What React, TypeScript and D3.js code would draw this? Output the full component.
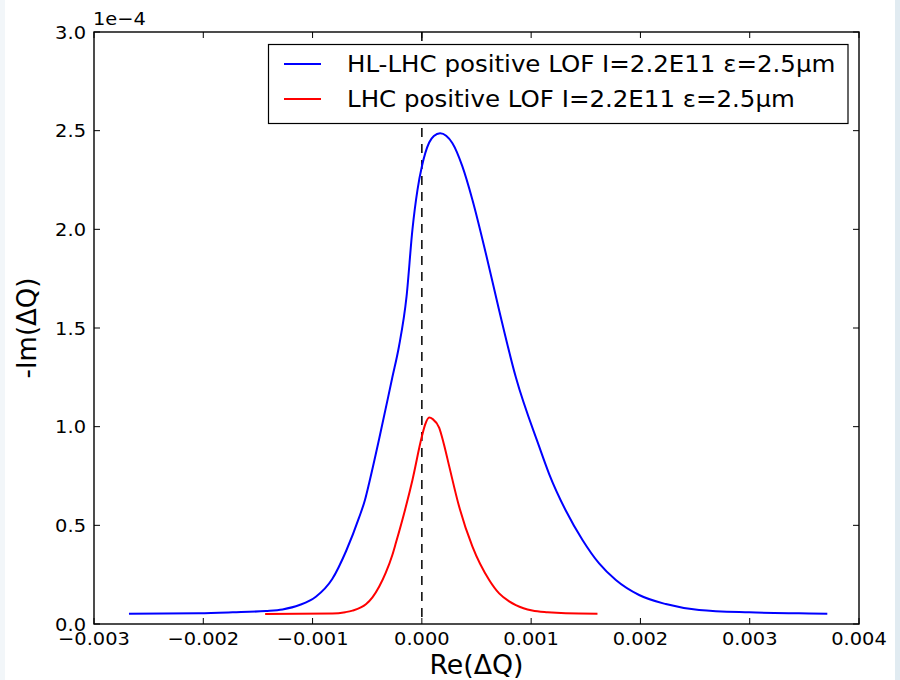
import React from "react";
import * as d3 from "d3";

const blueX = [-0.00268, -0.00204, -0.00173, -0.00143, -0.001275, -0.00112, -0.00097, -0.00082, -0.000693, -0.000574, -0.00052, -0.000482, -0.00039, -0.00027, -0.00021, -0.00014, -0.000086, -0.00004, 0, 0.000067, 0.00011, 0.000167, 0.00028, 0.00037, 0.000463, 0.000585, 0.000707, 0.00086, 0.001073, 0.001165, 0.001317, 0.00147, 0.001622, 0.001775, 0.001988, 0.002232, 0.002537, 0.002995, 0.00345, 0.00371];
const blueY = [0.052, 0.054, 0.059, 0.066, 0.074, 0.096, 0.138, 0.228, 0.37, 0.54, 0.63, 0.715, 0.94, 1.25, 1.405, 1.66, 2.0, 2.2, 2.318, 2.44, 2.473, 2.487, 2.436, 2.32, 2.149, 1.879, 1.59, 1.25, 0.9, 0.76, 0.575, 0.426, 0.307, 0.223, 0.147, 0.101, 0.071, 0.059, 0.054, 0.052];

const redX = [-0.001434, -0.000818, -0.0007, -0.000635, -0.000512, -0.000452, -0.00039, -0.00033, -0.00027, -0.000238, -0.000146, -0.000086, 0, 0.00003, 0.000067, 0.0001, 0.000158, 0.0002, 0.00025, 0.000341, 0.000463, 0.000616, 0.000707, 0.000799, 0.00086, 0.00093, 0.00101, 0.00115, 0.001317, 0.001607];
const redY = [0.051, 0.053, 0.06, 0.068, 0.1, 0.135, 0.19, 0.26, 0.35, 0.41, 0.595, 0.73, 0.95, 1.01, 1.046, 1.038, 0.995, 0.915, 0.8, 0.595, 0.392, 0.223, 0.155, 0.115, 0.096, 0.08, 0.068, 0.059, 0.054, 0.052];

const xTicks = [-0.003, -0.002, -0.001, 0, 0.001, 0.002, 0.003, 0.004];
const xTickLabels = ["\u22120.003", "\u22120.002", "\u22120.001", "0.000", "0.001", "0.002", "0.003", "0.004"];
const yTicks = [0, 0.5, 1.0, 1.5, 2.0, 2.5, 3.0];
const yTickLabels = ["0.0", "0.5", "1.0", "1.5", "2.0", "2.5", "3.0"];

const seriesNames = ["HL-LHC positive LOF I=2.2E11 \u03b5=2.5\u03bcm", "LHC positive LOF I=2.2E11 \u03b5=2.5\u03bcm"];
const seriesColors = ["#0000ff", "#ff0000"];
const xLabel = "Re(\u0394Q)";
const yLabel = "-Im(\u0394Q)";
const offsetText = "1e\u22124";

const W = 900, H = 680;
const L = 94, R = 859, T = 32, B = 624;
const FONT = "'DejaVu Sans', sans-serif";

function SText({ x, y, sx, size, anchor, children }: { x: number; y: number; sx: number; size: number; anchor?: string; children: React.ReactNode }) {
  return (
    <text transform={`translate(${x},${y}) scale(${sx},1)`} textAnchor={anchor || "start"} fontSize={size} fill="#000">
      {children}
    </text>
  );
}

export default function App() {
  const x = d3.scaleLinear().domain([-0.003, 0.004]).range([L, R]);
  const y = d3.scaleLinear().domain([0, 3.0]).range([B, T]);
  const line = d3.line<[number, number]>().x(d => x(d[0])).y(d => y(d[1])).curve(d3.curveMonotoneX);
  const blue = blueX.map((v, i) => [v, blueY[i]] as [number, number]);
  const red = redX.map((v, i) => [v, redY[i]] as [number, number]);
  const tl = 6;
  return (
    <svg width={W} height={H} style={{ position: "fixed", left: 0, top: 0, background: "#ffffff" }} fontFamily={FONT}>
      <rect x={0} y={0} width={5} height={H} fill="#f2f6f9" />
      <rect x={895} y={0} width={5} height={H} fill="#e1ebf1" />
      <line x1={x(0)} x2={x(0)} y1={T} y2={B} stroke="#000" strokeWidth={1.5} strokeDasharray="9,7" />
      <path d={line(blue) || ""} fill="none" stroke={seriesColors[0]} strokeWidth={2} />
      <path d={line(red) || ""} fill="none" stroke={seriesColors[1]} strokeWidth={2} />
      {xTicks.map((t, i) => (
        <g key={"xt" + i}>
          <line x1={x(t)} x2={x(t)} y1={B} y2={B - tl} stroke="#000" strokeWidth={1} />
          <line x1={x(t)} x2={x(t)} y1={T} y2={T + tl} stroke="#000" strokeWidth={1} />
          <SText x={x(t)} y={645} sx={1.05} size={18.5} anchor="middle">{xTickLabels[i]}</SText>
        </g>
      ))}
      {yTicks.map((t, i) => (
        <g key={"yt" + i}>
          <line x1={L} x2={L + tl} y1={y(t)} y2={y(t)} stroke="#000" strokeWidth={1} />
          <line x1={R} x2={R - tl} y1={y(t)} y2={y(t)} stroke="#000" strokeWidth={1} />
          <SText x={86} y={y(t) + 6.7} sx={1.05} size={18.5} anchor="end">{yTickLabels[i]}</SText>
        </g>
      ))}
      <rect x={L} y={T} width={R - L} height={B - T} fill="none" stroke="#000" strokeWidth={1.4} />
      <SText x={93} y={25} sx={1.05} size={18.5}>{offsetText}</SText>
      <g>
        <rect x={268.5} y={44.5} width={579.5} height={79} fill="#fff" stroke="#000" strokeWidth={1.2} />
        {seriesNames.map((n, i) => (
          <g key={"lg" + i}>
            <line x1={284} x2={321} y1={64 + i * 35} y2={64 + i * 35} stroke={seriesColors[i]} strokeWidth={2} />
            <SText x={347} y={71.7 + i * 35} sx={1.065} size={23}>{n}</SText>
          </g>
        ))}
      </g>
      <SText x={(L + R) / 2} y={674} sx={1.03} size={26} anchor="middle">{xLabel}</SText>
      <text transform={`translate(36,${(T + B) / 2}) rotate(-90)`} textAnchor="middle" fontSize={26} fill="#000">{yLabel}</text>
    </svg>
  );
}
